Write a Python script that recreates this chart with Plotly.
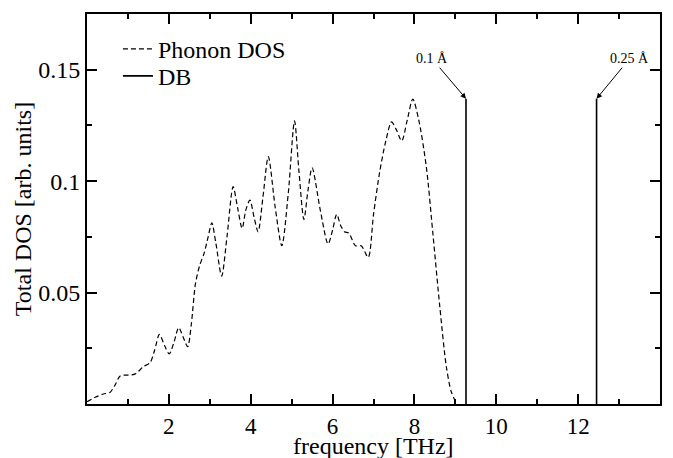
import plotly.graph_objects as go

# Phonon DOS curve (frequency in THz, DOS in arb. units)
freq = [0.0, 0.2, 0.4, 0.56, 0.7, 0.81, 1.0, 1.17, 1.38, 1.54, 1.65, 1.77, 1.9, 2.01,
        2.13, 2.24, 2.35, 2.46, 2.55, 2.65, 2.75, 2.86, 2.96, 3.05, 3.15, 3.29, 3.42,
        3.57, 3.68, 3.79, 3.88, 3.98, 4.08, 4.18, 4.3, 4.43, 4.6, 4.76, 4.92, 5.07,
        5.18, 5.30, 5.40, 5.50, 5.7, 5.89, 6.0, 6.1, 6.2, 6.29, 6.4, 6.56, 6.7, 6.87,
        7.0, 7.15, 7.3, 7.44, 7.56, 7.69, 7.82, 7.96, 8.1, 8.29, 8.45, 8.62, 8.78,
        8.9, 9.02]
dos = [0.001, 0.003, 0.0045, 0.0052, 0.009, 0.0126, 0.013, 0.0134, 0.0168, 0.0185,
       0.024, 0.0312, 0.026, 0.0225, 0.028, 0.0343, 0.030, 0.0257, 0.036, 0.054,
       0.062, 0.0676, 0.075, 0.0813, 0.072, 0.0574, 0.075, 0.0975, 0.088, 0.0788,
       0.087, 0.0915, 0.084, 0.0773, 0.093, 0.111, 0.088, 0.071, 0.095, 0.127,
       0.104, 0.0828, 0.096, 0.106, 0.087, 0.0718, 0.078, 0.0851, 0.080, 0.0773,
       0.0766, 0.071, 0.071, 0.0658, 0.085, 0.104, 0.118, 0.1266, 0.123, 0.118,
       0.127, 0.1368, 0.128, 0.1065, 0.0766, 0.0437, 0.0167, 0.0055, 0.0005]

# Discrete breather (DB) frequencies and heights
db_freq = [9.26, 12.45]
db_height = [0.137, 0.137]
db_labels = ["0.1 Å", "0.25 Å"]

x_ticks = [2, 4, 6, 8, 10, 12]
y_ticks = [0.05, 0.1, 0.15]
y_tick_text = ["0.05", "0.1", "0.15"]
x_title = "frequency [THz]"
y_title = "Total DOS [arb. units]"

FONT = "Liberation Serif, Times New Roman, serif"

fig = go.Figure()
fig.add_trace(go.Scatter(
    x=freq, y=dos, mode="lines", name="Phonon DOS", legend="legend",
    line=dict(color="black", width=1.2, dash="5px,3px", shape="spline", smoothing=0.8),
))
db_x, db_y = [], []
for f, h in zip(db_freq, db_height):
    db_x += [f, f, None]
    db_y += [0, h, None]
fig.add_trace(go.Scatter(
    x=db_x, y=db_y, mode="lines", name="DB", legend="legend2",
    line=dict(color="black", width=1.6),
))

offsets = [(-34, -40), (33, -40)]
for f, h, lab, (ax, ay) in zip(db_freq, db_height, db_labels, offsets):
    fig.add_annotation(
        x=f, y=h, text=lab, showarrow=True, arrowhead=2, arrowsize=1.1,
        arrowwidth=1, arrowcolor="black", ax=ax, ay=ay,
        font=dict(family=FONT, size=14, color="black"),
    )

# x-axis title placed below the tick labels
fig.add_annotation(
    x=0.5, y=0, xref="paper", yref="paper", text=x_title, showarrow=False,
    xanchor="center", yanchor="middle", yshift=-42, borderpad=0,
    font=dict(family=FONT, size=24, color="black"),
)

axis_common = dict(
    showline=True, linecolor="black", linewidth=2, mirror="allticks",
    ticks="inside", ticklen=10, tickwidth=1.5, tickcolor="black",
    showgrid=False, zeroline=False, automargin=False,
)

legend_common = dict(
    xanchor="left", yanchor="top",
    bgcolor="rgba(0,0,0,0)", borderwidth=0,
    font=dict(family=FONT, size=24, color="black"),
)

fig.update_layout(
    width=673, height=458,
    margin=dict(l=87, r=13, t=14, b=54),
    paper_bgcolor="white", plot_bgcolor="white",
    showlegend=True,
    legend=dict(x=0.054, y=0.967, **legend_common),
    legend2=dict(x=0.054, y=0.898, **legend_common),
    xaxis=dict(
        range=[0, 14], tickvals=x_ticks,
        tickfont=dict(family=FONT, size=23, color="black"),
        minor=dict(ticks="inside", ticklen=5, dtick=1, tick0=0, tickcolor="black", tickwidth=1.5),
        **axis_common,
    ),
    yaxis=dict(
        range=[0, 0.175], tickvals=y_ticks, ticktext=y_tick_text,
        tickfont=dict(family=FONT, size=24, color="black"),
        minor=dict(ticks="inside", ticklen=5, dtick=0.025, tick0=0, tickcolor="black", tickwidth=1.5),
        title=dict(text=y_title, font=dict(family=FONT, size=24, color="black"), standoff=0),
        **axis_common,
    ),
)

fig.write_html("out.html")
